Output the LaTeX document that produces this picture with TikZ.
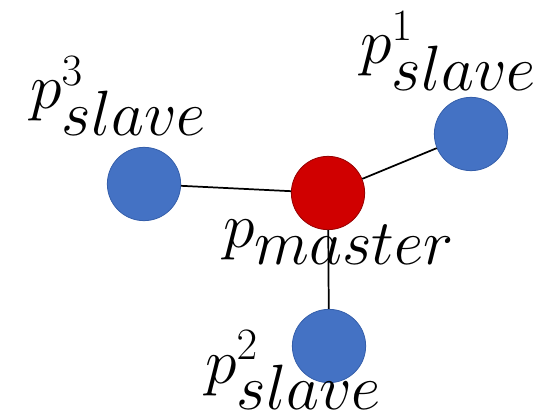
\documentclass[tikz,border=0pt]{standalone}
\usepackage{fix-cm}
\usepackage{amsmath}
\usepackage{tikz}

\definecolor{slaveblue}{RGB}{68,114,196}
\definecolor{slaveedge}{RGB}{52,94,170}
\definecolor{masterred}{RGB}{208,0,0}
\definecolor{masteredge}{RGB}{150,0,0}

\tikzset{
  slave/.style={circle, fill=slaveblue, draw=slaveedge, line width=0.6pt, minimum size=55pt, inner sep=0pt},
  master/.style={circle, fill=masterred, draw=masteredge, line width=0.6pt, minimum size=55pt, inner sep=0pt},
  plabel/.style={anchor=base west, inner sep=0pt, font=\fontsize{48}{56}\selectfont},
  link/.style={line width=1.3pt, black}
}

\begin{document}
\begin{tikzpicture}[x=0.75pt, y=-0.75pt]
  \useasboundingbox (0,0) rectangle (553,417);

  % --- agents ---
  \node[master] (m)  at (328,193) {};
  \node[slave]  (s1) at (471,134) {};
  \node[slave]  (s2) at (329,346) {};
  \node[slave]  (s3) at (144,184) {};

  % links from master to each slave
  \draw[link] (m) -- (s1);
  \draw[link] (m) -- (s2);
  \draw[link] (m) -- (s3);

  % --- labels ---
  \node[plabel] (l1) at (360,64)  {$p^{1}_{\textstyle slave}$};
  \node[plabel] (l3) at (30,109)  {$p^{3}_{\textstyle slave}$};
  \node[plabel] (lm) at (223,247) {$p_{\textstyle master}$};
  \node[plabel] (l2) at (205,383) {$p^{2}_{\textstyle slave}$};
\end{tikzpicture}
\end{document}
